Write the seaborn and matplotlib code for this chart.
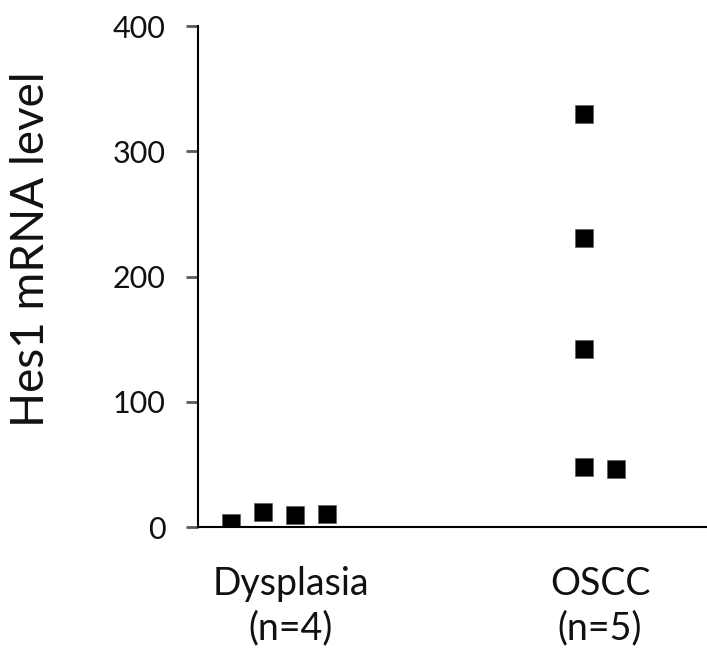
import numpy as np
import pandas as pd
import matplotlib
matplotlib.use("Agg")
import matplotlib.pyplot as plt
import matplotlib.transforms as mtransforms
import seaborn as sns

sns.set_theme(style="white")
plt.rcParams['font.family'] = ['Lato', 'DejaVu Sans']

# values
groups = ["Dysplasia\n(n=4)", "OSCC\n(n=5)"]
dysplasia = [3.4, 12.1, 9.6, 10.5]
oscc = [330, 231, 142, 48, 46]
y_ticks = [0, 100, 200, 300, 400]

df = pd.DataFrame({
    "group": [groups[0]] * len(dysplasia) + [groups[1]] * len(oscc),
    "value": dysplasia + oscc,
})

# simple lane layout so overlapping squares sit side by side
lane_step = 0.1
overlap = 15
xs = []
for gi, g in enumerate(groups):
    vals = df.loc[df["group"] == g, "value"].tolist()
    lanes = []
    for i, v in enumerate(vals):
        k = 0
        while any(lanes[j] == k and abs(vals[j] - v) < overlap for j in range(i)):
            k += 1
        lanes.append(k)
    lanes = np.array(lanes, dtype=float)
    lanes -= (lanes.max()) / 2
    xs.extend(gi + lanes * lane_step)
df["x"] = xs

text_col = "#111111"
fig = plt.figure(figsize=(7.07, 6.6), dpi=100)
ax = fig.add_axes([0.280, 0.2015, 0.720, 0.7591])

sns.scatterplot(data=df, x="x", y="value", marker="s", s=187,
                color="black", edgecolor="#555555", linewidth=0.4, ax=ax, legend=False)

ax.set_xlim(-0.252, 1.333)
ax.set_ylim(0, 400)
ax.set_yticks(y_ticks)
ax.set_yticklabels([str(t) for t in y_ticks], fontsize=22, color=text_col)
ax.set_xticks(range(len(groups)))
ax.set_xticklabels(groups, fontsize=27, color=text_col, linespacing=1.3)
ax.tick_params(axis="y", left=True, length=8.6, width=2, color="#595959", pad=14.5)
ax.tick_params(axis="x", bottom=False, length=0, pad=28)
ax.set_xlabel("")
ax.set_ylabel("Hes1 mRNA level", fontsize=33, color=text_col)
ax.yaxis.set_label_coords(-0.287, 0.555)

# the first group label sits a little right of its squares in the reference
lbl = ax.get_xticklabels()[0]
lbl.set_transform(lbl.get_transform() + mtransforms.ScaledTranslation(12 / 100, 0, fig.dpi_scale_trans))

sns.despine(ax=ax, top=True, right=True)
for side in ["left", "bottom"]:
    ax.spines[side].set_color("black")
    ax.spines[side].set_linewidth(1.5)
ax.grid(False)

fig.savefig("out.png", dpi=100)
